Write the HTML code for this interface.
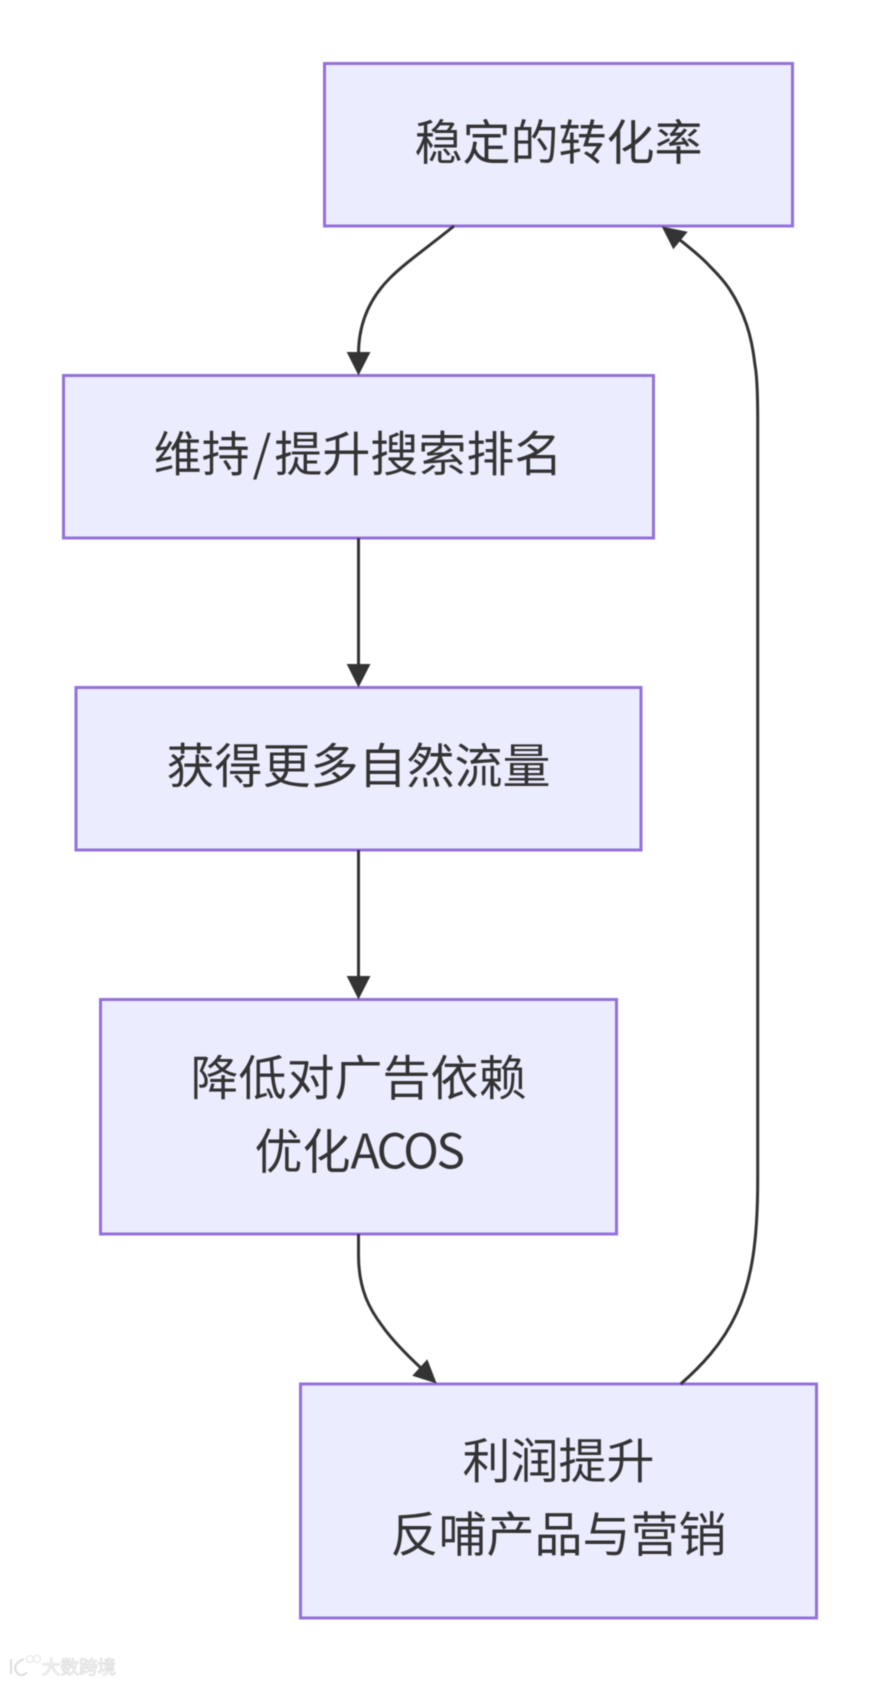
<!DOCTYPE html>
<html><head><meta charset="utf-8"><style>
html,body{margin:0;padding:0;background:#fff;width:880px;height:1682px;overflow:hidden}
svg{display:block;filter:blur(0.45px)}
text{font-family:"Liberation Sans","Noto Sans CJK SC",sans-serif}
.l{font-family:"Noto Sans CJK SC","Liberation Sans",sans-serif;font-size:48px;fill:#333;text-anchor:middle;font-weight:400}
.b{fill:#ECECFF;stroke:#9370DB;stroke-width:3}
.e{fill:none;stroke:#333;stroke-width:3}
</style></head><body>
<svg width="880" height="1682" viewBox="0 0 880 1682" xmlns="http://www.w3.org/2000/svg">
<rect width="880" height="1682" fill="#fff"/>
<rect class="b" x="324.5" y="63.5" width="468" height="162.5"/>
<rect class="b" x="63.5" y="375.5" width="590" height="162.5"/>
<rect class="b" x="76" y="687.5" width="565" height="162.5"/>
<rect class="b" x="100.5" y="999.5" width="516" height="234.5"/>
<rect class="b" x="300.5" y="1384" width="516" height="234"/>
<path class="e" d="M454,226 C428,247 405,263 390,278 C372,296 358.500,320 358.500,354"/>
<path class="e" d="M358.500,538 L358.500,666"/>
<path class="e" d="M358.500,850 L358.500,978"/>
<path class="e" d="M358.500,1234 L358.500,1255 C358.500,1290 370,1310 383,1327 C393,1341 408,1356 422,1369"/>
<path class="e" d="M680.700,1384 C700,1367 722,1345 736.700,1313 C752,1280 757.700,1240 757.700,1180 L757.700,420 C757.700,402 757.400,378 755,365 C753.200,349.200 750.900,337.500 746.700,325 C742.500,312.500 736.700,300.300 730,290 C723.300,279.700 714.700,271.200 706.700,263 C698.700,254.800 690,248 680,240"/>
<g fill="#333">
<path d="M346.700,352 L370.500,352 L358.500,375.500 Z"/>
<path d="M346.700,664 L370.500,664 L358.500,687.500 Z"/>
<path d="M346.700,976 L370.500,976 L358.500,999.500 Z"/>
<path d="M436.700,1383.500 L427.300,1359.300 L412.300,1375.700 Z"/>
<path d="M661.700,226.500 L687.700,231.700 L673.300,249.300 Z"/>
</g>
<text class="l" x="558.500" y="159.500">稳定的转化率</text>
<text class="l" x="358" y="471">维持<tspan dx="3">/</tspan><tspan dx="3">提升搜索排名</tspan></text>
<text class="l" x="358.500" y="783">获得更多自然流量</text>
<text class="l" x="358.500" y="1095">降低对广告依赖</text>
<text class="l" x="358.500" y="1168.500">优化<tspan letter-spacing="-2.500">ACOS</tspan></text>
<text class="l" x="558.500" y="1478">利润提升</text>
<text class="l" x="558.500" y="1551.500">反哺产品与营销</text>
<g fill="#fff" stroke="#dcdcdc" stroke-width="0.800">
<text x="42" y="1674" font-size="18.500" style="font-family:'Noto Sans CJK SC',sans-serif">大数跨境</text>
<path fill="none" stroke-width="2" d="M11,1659 L11,1674 M24,1659 C14,1663 13,1669 18,1674 C21,1676 25,1675 27,1672"/>
<circle cx="30" cy="1659" r="3.500"/>
<circle cx="37" cy="1659" r="3.500"/>
</g>
</svg>
</body></html>
